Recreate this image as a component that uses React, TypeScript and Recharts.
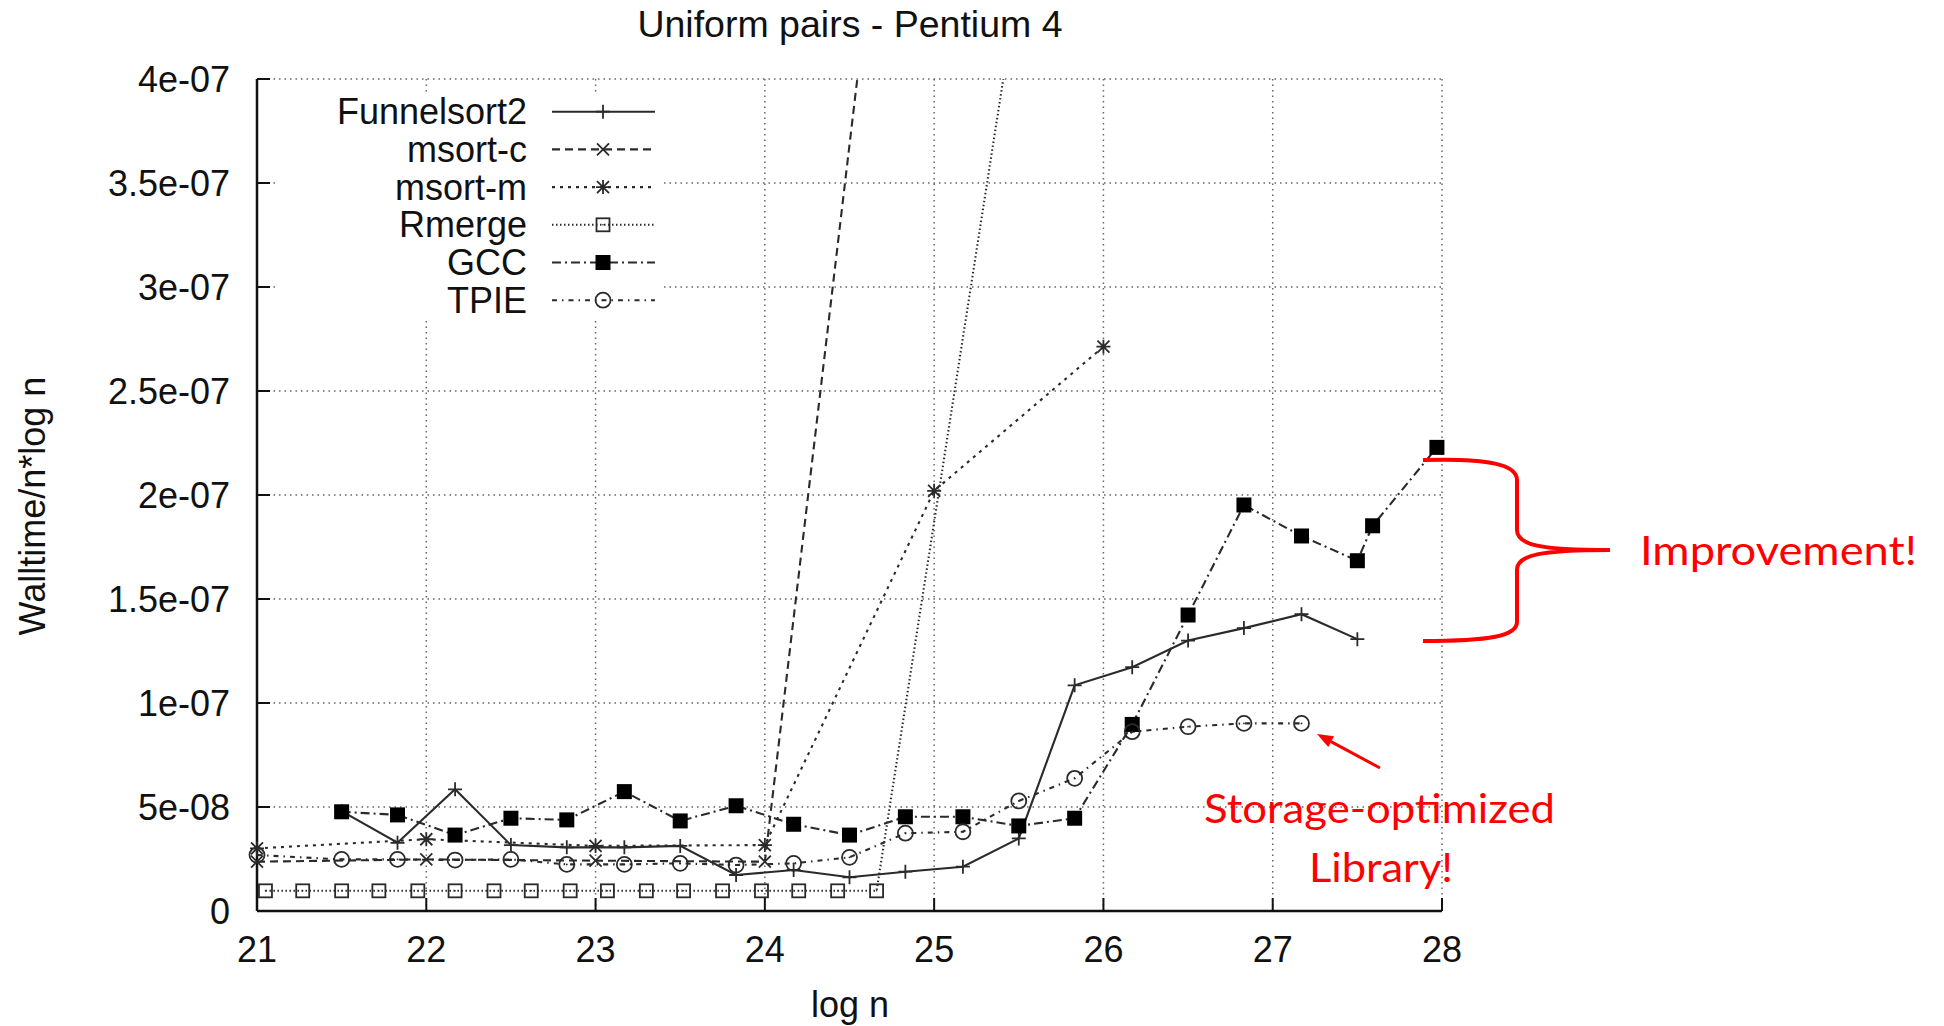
import { LineChart, Line, XAxis, YAxis, CartesianGrid, Legend } from 'recharts';

// gnuplot style benchmark plot
const TITLE = 'Uniform pairs - Pentium 4';
const X_LABEL = 'log n';
const Y_LABEL = 'Walltime/n*log n';

const X_TICKS = [21, 22, 23, 24, 25, 26, 27, 28];
const Y_TICKS = [0, 5e-8, 1e-7, 1.5e-7, 2e-7, 2.5e-7, 3e-7, 3.5e-7, 4e-7];
const Y_TICK_LABELS = ['0', '5e-08', '1e-07', '1.5e-07', '2e-07', '2.5e-07', '3e-07', '3.5e-07', '4e-07'];

const FUNNEL_X = [21.5, 21.83, 22.17, 22.5, 22.83, 23.17, 23.5, 23.83, 24.17, 24.5, 24.83, 25.17, 25.5, 25.83, 26.17, 26.5, 26.83, 27.17, 27.5];
const FUNNEL_Y = [4.8e-8, 3.28e-8, 5.85e-8, 3.17e-8, 3.06e-8, 3.06e-8, 3.13e-8, 1.73e-8, 1.97e-8, 1.62e-8, 1.89e-8, 2.13e-8, 3.49e-8, 1.085e-7, 1.172e-7, 1.3e-7, 1.36e-7, 1.427e-7, 1.307e-7];

const MSORTC_X = [21, 22, 23, 24, 25];
const MSORTC_Y = [2.37e-8, 2.48e-8, 2.42e-8, 2.37e-8, 7.13e-7];

const MSORTM_X = [21, 22, 23, 24, 25, 26];
const MSORTM_Y = [3.01e-8, 3.45e-8, 3.13e-8, 3.17e-8, 2.02e-7, 2.713e-7];

const RMERGE_X = [21.05, 21.27, 21.5, 21.72, 21.95, 22.17, 22.4, 22.62, 22.85, 23.07, 23.3, 23.52, 23.75, 23.98, 24.2, 24.43, 24.66, 25.56];
const RMERGE_Y = [9.7e-9, 9.7e-9, 9.7e-9, 9.7e-9, 9.7e-9, 9.7e-9, 9.7e-9, 9.7e-9, 9.7e-9, 9.7e-9, 9.7e-9, 9.7e-9, 9.7e-9, 9.7e-9, 9.7e-9, 9.7e-9, 9.7e-9, 4.79e-7];

const GCC_X = [21.5, 21.83, 22.17, 22.5, 22.83, 23.17, 23.5, 23.83, 24.17, 24.5, 24.83, 25.17, 25.5, 25.83, 26.17, 26.5, 26.83, 27.17, 27.5, 27.59, 27.97];
const GCC_Y = [4.77e-8, 4.62e-8, 3.65e-8, 4.46e-8, 4.38e-8, 5.74e-8, 4.33e-8, 5.06e-8, 4.17e-8, 3.65e-8, 4.53e-8, 4.53e-8, 4.09e-8, 4.46e-8, 8.97e-8, 1.423e-7, 1.952e-7, 1.803e-7, 1.684e-7, 1.852e-7, 2.229e-7];

const TPIE_X = [21, 21.5, 21.83, 22.17, 22.5, 22.83, 23.17, 23.5, 23.83, 24.17, 24.5, 24.83, 25.17, 25.5, 25.83, 26.17, 26.5, 26.83, 27.17];
const TPIE_Y = [2.69e-8, 2.48e-8, 2.48e-8, 2.45e-8, 2.48e-8, 2.24e-8, 2.24e-8, 2.29e-8, 2.21e-8, 2.29e-8, 2.58e-8, 3.74e-8, 3.81e-8, 5.29e-8, 6.38e-8, 8.62e-8, 8.86e-8, 9.02e-8, 9.02e-8];

type MarkerKind = 'plus' | 'cross' | 'star' | 'box' | 'boxFilled' | 'circle';

const zip = (xs: number[], ys: number[]) => xs.map((x, i) => ({ x, y: ys[i] }));

const SERIES: { name: string; data: { x: number; y: number }[]; dash?: string; marker: MarkerKind }[] = [
  { name: 'Funnelsort2', data: zip(FUNNEL_X, FUNNEL_Y), marker: 'plus' },
  { name: 'msort-c', data: zip(MSORTC_X, MSORTC_Y), dash: '8 5', marker: 'cross' },
  { name: 'msort-m', data: zip(MSORTM_X, MSORTM_Y), dash: '3 5', marker: 'star' },
  { name: 'Rmerge', data: zip(RMERGE_X, RMERGE_Y), dash: '1.5 2.5', marker: 'box' },
  { name: 'GCC', data: zip(GCC_X, GCC_Y), dash: '9 4 2 4', marker: 'boxFilled' },
  { name: 'TPIE', data: zip(TPIE_X, TPIE_Y), dash: '5 5 1.5 5', marker: 'circle' },
];

const INK = '#2a2a2a';
const LINE_W = 2.1;
const FONT = '"Liberation Sans", Arial, Helvetica, sans-serif';
const RED = '#ff0000';
const RED_FONT = 'Lato, "Open Sans", sans-serif';

function Marker({ kind, cx, cy }: { kind: MarkerKind; cx: number; cy: number }) {
  const s = 7;
  const d = 6;
  const sw = 1.8;
  switch (kind) {
    case 'plus':
      return <path d={`M${cx - s} ${cy}H${cx + s}M${cx} ${cy - s}V${cy + s}`} stroke={INK} strokeWidth={sw} fill="none" />;
    case 'cross':
      return <path d={`M${cx - d} ${cy - d}L${cx + d} ${cy + d}M${cx - d} ${cy + d}L${cx + d} ${cy - d}`} stroke={INK} strokeWidth={sw} fill="none" />;
    case 'star':
      return (
        <path
          d={`M${cx - s} ${cy}H${cx + s}M${cx} ${cy - s}V${cy + s}M${cx - d} ${cy - d}L${cx + d} ${cy + d}M${cx - d} ${cy + d}L${cx + d} ${cy - d}`}
          stroke={INK} strokeWidth={sw} fill="none"
        />
      );
    case 'box':
      return (
        <g>
          <rect x={cx - 6.5} y={cy - 6.5} width={13} height={13} stroke={INK} strokeWidth={sw} fill="none" />
          <circle cx={cx} cy={cy} r={0.8} fill={INK} />
        </g>
      );
    case 'boxFilled':
      return <rect x={cx - 7.5} y={cy - 7.5} width={15} height={15} fill="#000" />;
    case 'circle':
      return (
        <g>
          <circle cx={cx} cy={cy} r={7.5} stroke={INK} strokeWidth={sw} fill="none" />
          <circle cx={cx} cy={cy} r={0.9} fill={INK} />
        </g>
      );
  }
}

const dotFor = (kind: MarkerKind) => (props: any) => {
  const { cx, cy, index } = props;
  if (cx == null || cy == null) return <g key={index} />;
  return (
    <g key={index}>
      <Marker kind={kind} cx={cx} cy={cy} />
    </g>
  );
};

// white key box: it hides the grid behind it, like gnuplot's opaque key
function LegendBox() {
  return (
    <svg width={381} height={240} style={{ display: 'block', overflow: 'visible' }}>
      <rect x={0} y={14} width={381} height={226} fill="#fff" />
      {SERIES.map((s, i) => {
        const cy = 31.7 + i * 37.7;
        return (
          <g key={s.name}>
            <text x={248} y={cy} textAnchor="end" dominantBaseline="central" fontSize={36} fontFamily={FONT} fill="#111">
              {s.name}
            </text>
            <line x1={273} x2={376} y1={cy} y2={cy} stroke={INK} strokeWidth={LINE_W} strokeDasharray={s.dash} />
            <Marker kind={s.marker} cx={324} cy={cy} />
          </g>
        );
      })}
    </svg>
  );
}

const fmtY = (v: number) => {
  const i = Y_TICKS.findIndex(t => Math.abs(t - v) < 1e-12);
  return i >= 0 ? Y_TICK_LABELS[i] : String(v);
};

export default function App() {
  const axisLine = { stroke: '#111', strokeWidth: 2.5 };
  const tickLine = { stroke: '#111', strokeWidth: 2 };
  const tickStyle = { fill: '#111', fontSize: 36, fontFamily: FONT };

  return (
    <div style={{ position: 'relative', width: 1936, height: 1018 }}>
      <LineChart width={1936} height={1018} margin={{ top: 71, right: 502, bottom: 0, left: 0 }}>
        <CartesianGrid stroke="#666" strokeWidth={1.5} strokeDasharray="1.5 4" />
        <XAxis
          type="number" dataKey="x" domain={[21, 28]} ticks={X_TICKS} interval={0}
          height={115} tickSize={-13} tickMargin={38}
          axisLine={axisLine} tickLine={tickLine} tick={tickStyle}
        />
        <XAxis
          xAxisId="top" orientation="top" type="number" dataKey="x" domain={[21, 28]} ticks={X_TICKS} interval={0}
          height={0} tickSize={-13} tick={false} axisLine={axisLine} tickLine={tickLine}
        />
        <YAxis
          type="number" domain={[0, 4e-7]} ticks={Y_TICKS} interval={0} allowDataOverflow
          width={249} tickSize={-13} tickMargin={40} tickFormatter={fmtY}
          axisLine={axisLine} tickLine={tickLine} tick={tickStyle}
        />
        <YAxis
          yAxisId="right" orientation="right" type="number" domain={[0, 4e-7]} ticks={Y_TICKS} interval={0}
          width={0} tickSize={-13} tick={false} axisLine={axisLine} tickLine={tickLine}
        />
        <Legend
          layout="vertical" align="center" verticalAlign="middle"
          wrapperStyle={{ left: 271, top: 72, width: 381, height: 240 }}
          content={() => <LegendBox />}
        />
        {SERIES.map(s => (
          <Line
            key={s.name}
            name={s.name}
            data={s.data}
            dataKey="y"
            type="linear"
            stroke={INK}
            strokeWidth={LINE_W}
            strokeDasharray={s.dash}
            dot={dotFor(s.marker)}
            activeDot={false}
            isAnimationActive={false}
          />
        ))}
      </LineChart>

      {/* title, axis titles and the red slide annotations */}
      <svg width={1936} height={1018} style={{ position: 'absolute', left: 0, top: 0, pointerEvents: 'none', overflow: 'visible' }}>
        <text x={842} y={29} textAnchor="middle" fontSize={37.5} fontFamily={FONT} fill="#111">
          {TITLE}
        </text>
        <text x={842} y={996} textAnchor="middle" dominantBaseline="central" fontSize={36} fontFamily={FONT} fill="#111">
          {X_LABEL}
        </text>
        <text
          x={24} y={498} textAnchor="middle" dominantBaseline="central" fontSize={36} fontFamily={FONT} fill="#111"
          transform="rotate(-90 24 498)"
        >
          {Y_LABEL}
        </text>

        <path
          d="M1415 452 C1482 450 1509 457 1509 472 L1509 522 C1509 537 1532 542 1602 542 C1532 542 1509 547 1509 562 L1509 614 C1509 628 1482 633 1415 633"
          stroke={RED} strokeWidth={4} fill="none"
        />
        <text x={1632} y={557} fontSize={40} fontFamily={RED_FONT} fill={RED} textLength={277} lengthAdjust="spacingAndGlyphs">
          Improvement!
        </text>

        <line x1={1372} y1={760} x2={1323} y2={733.6} stroke={RED} strokeWidth={3} />
        <polygon points="1309,726 1326,728.3 1320.3,738.9" fill={RED} />
        <text x={1196} y={815} fontSize={40} fontFamily={RED_FONT} fill={RED} textLength={351} lengthAdjust="spacingAndGlyphs">
          Storage-optimized
        </text>
        <text x={1301} y={874} fontSize={40} fontFamily={RED_FONT} fill={RED} textLength={144} lengthAdjust="spacingAndGlyphs">
          Library!
        </text>
      </svg>
    </div>
  );
}
